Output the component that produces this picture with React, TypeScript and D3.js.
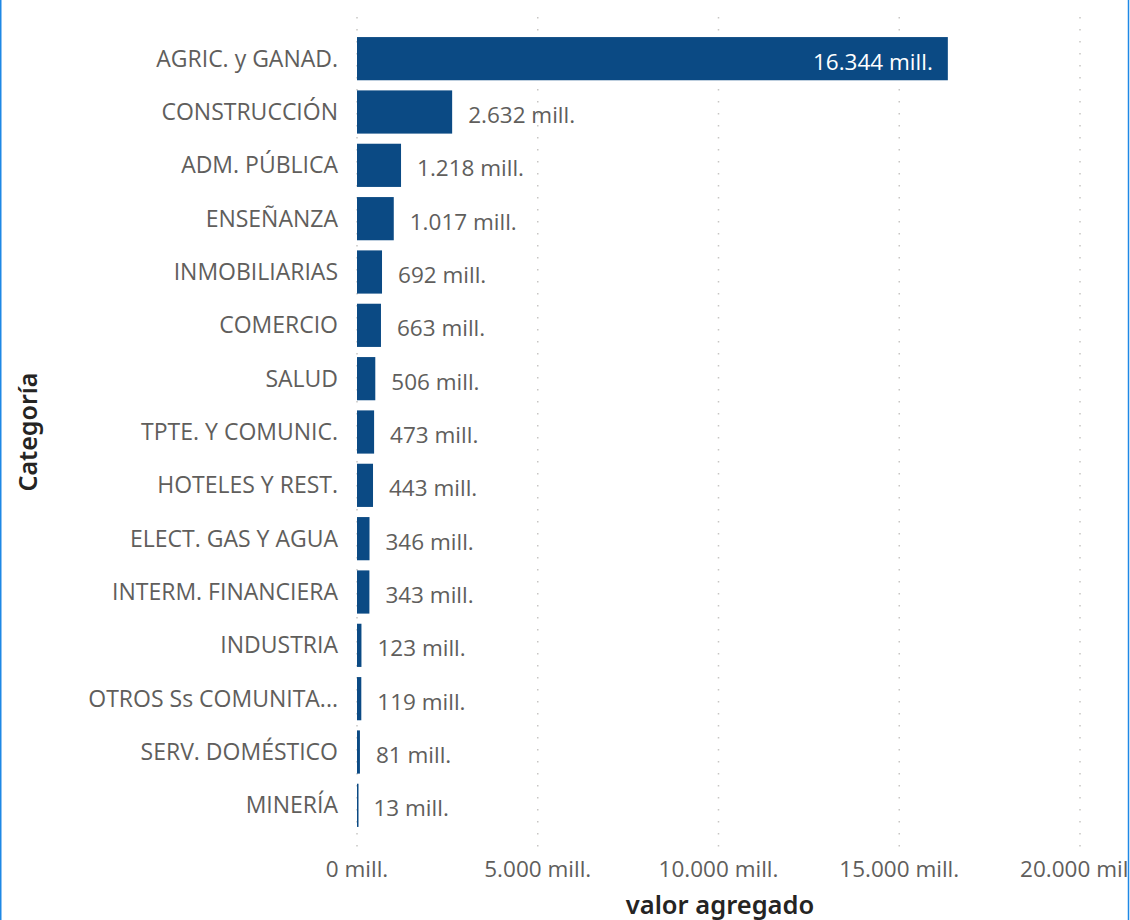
import React from "react";
import * as d3 from "d3";

const categories = [
  "AGRIC. y GANAD.",
  "CONSTRUCCIÓN",
  "ADM. PÚBLICA",
  "ENSEÑANZA",
  "INMOBILIARIAS",
  "COMERCIO",
  "SALUD",
  "TPTE. Y COMUNIC.",
  "HOTELES Y REST.",
  "ELECT. GAS Y AGUA",
  "INTERM. FINANCIERA",
  "INDUSTRIA",
  "OTROS Ss COMUNITA...",
  "SERV. DOMÉSTICO",
  "MINERÍA",
];
const values = [16344, 2632, 1218, 1017, 692, 663, 506, 473, 443, 346, 343, 123, 119, 81, 13];
const ticks = [0, 5000, 10000, 15000, 20000];

const W = 1130;
const H = 920;
const x0 = 357;
const x1 = 1080;
const yTop = 32;
const yBottom = 832;

const fmt = (v: number) => d3.format(",")(v).replace(/,/g, ".") + " mill.";

export default function App() {
  const x = d3.scaleLinear().domain([0, 20000]).range([x0, x1]);
  const y = d3
    .scaleBand<string>()
    .domain(categories)
    .range([yTop, yBottom])
    .paddingInner(0.19)
    .paddingOuter(0.095);
  const font = "'Open Sans', 'Noto Sans', sans-serif";
  const fs = 22.5;
  return (
    <svg
      width={W}
      height={H}
      style={{ position: "absolute", left: 0, top: 0, background: "#fff" }}
    >
      <defs>
        <clipPath id="clipR">
          <rect x={0} y={0} width={1127} height={H} />
        </clipPath>
      </defs>
      {ticks.map((t) => (
        <line
          key={"g" + t}
          x1={x(t)}
          x2={x(t)}
          y1={17}
          y2={848}
          stroke="#C8C6C4"
          strokeWidth={1.5}
          strokeDasharray="1.5,10.5"
        />
      ))}
      {categories.map((c, i) => {
        const v = values[i];
        const yy = y(c)!;
        const bw = x(v) - x(0);
        const inside = bw > 200;
        return (
          <g key={c}>
            <rect x={x(0)} y={yy} width={Math.max(bw, 1.5)} height={y.bandwidth()} fill="#0B4A84" />
            <text
              x={338}
              y={yy + y.bandwidth() / 2}
              dy="0.35em"
              textAnchor="end"
              fontFamily={font}
              fontSize={23}
              fill="#605E5C"
            >
              {c}
            </text>
            <text
              x={inside ? x(v) - 15 : x(v) + 16}
              y={yy + y.bandwidth() / 2 + 3}
              dy="0.35em"
              textAnchor={inside ? "end" : "start"}
              fontFamily={font}
              fontSize={fs}
              fill={inside ? "#FFFFFF" : "#605E5C"}
            >
              {fmt(v)}
            </text>
          </g>
        );
      })}
      <g clipPath="url(#clipR)">
        {ticks.map((t) => (
          <text
            key={"t" + t}
            x={x(t)}
            y={869}
            dy="0.35em"
            textAnchor="middle"
            fontFamily={font}
            fontSize={fs}
            fill="#605E5C"
          >
            {fmt(t)}
          </text>
        ))}
      </g>
      <text
        x={720}
        y={914}
        textAnchor="middle"
        fontFamily="'Noto Sans', sans-serif"
        fontWeight={600}
        fontSize={25.5}
        fill="#252423"
      >
        valor agregado
      </text>
      <text
        transform="translate(37,432) rotate(-90)"
        textAnchor="middle"
        fontFamily="'Noto Sans', sans-serif"
        fontWeight={600}
        fontSize={25}
        fill="#252423"
      >
        Categoría
      </text>
      <line x1={0.75} x2={0.75} y1={0} y2={H} stroke="#1E88E5" strokeWidth={1.5} />
      <line x1={1128.5} x2={1128.5} y1={0} y2={H} stroke="#1E88E5" strokeWidth={1.5} />
    </svg>
  );
}
